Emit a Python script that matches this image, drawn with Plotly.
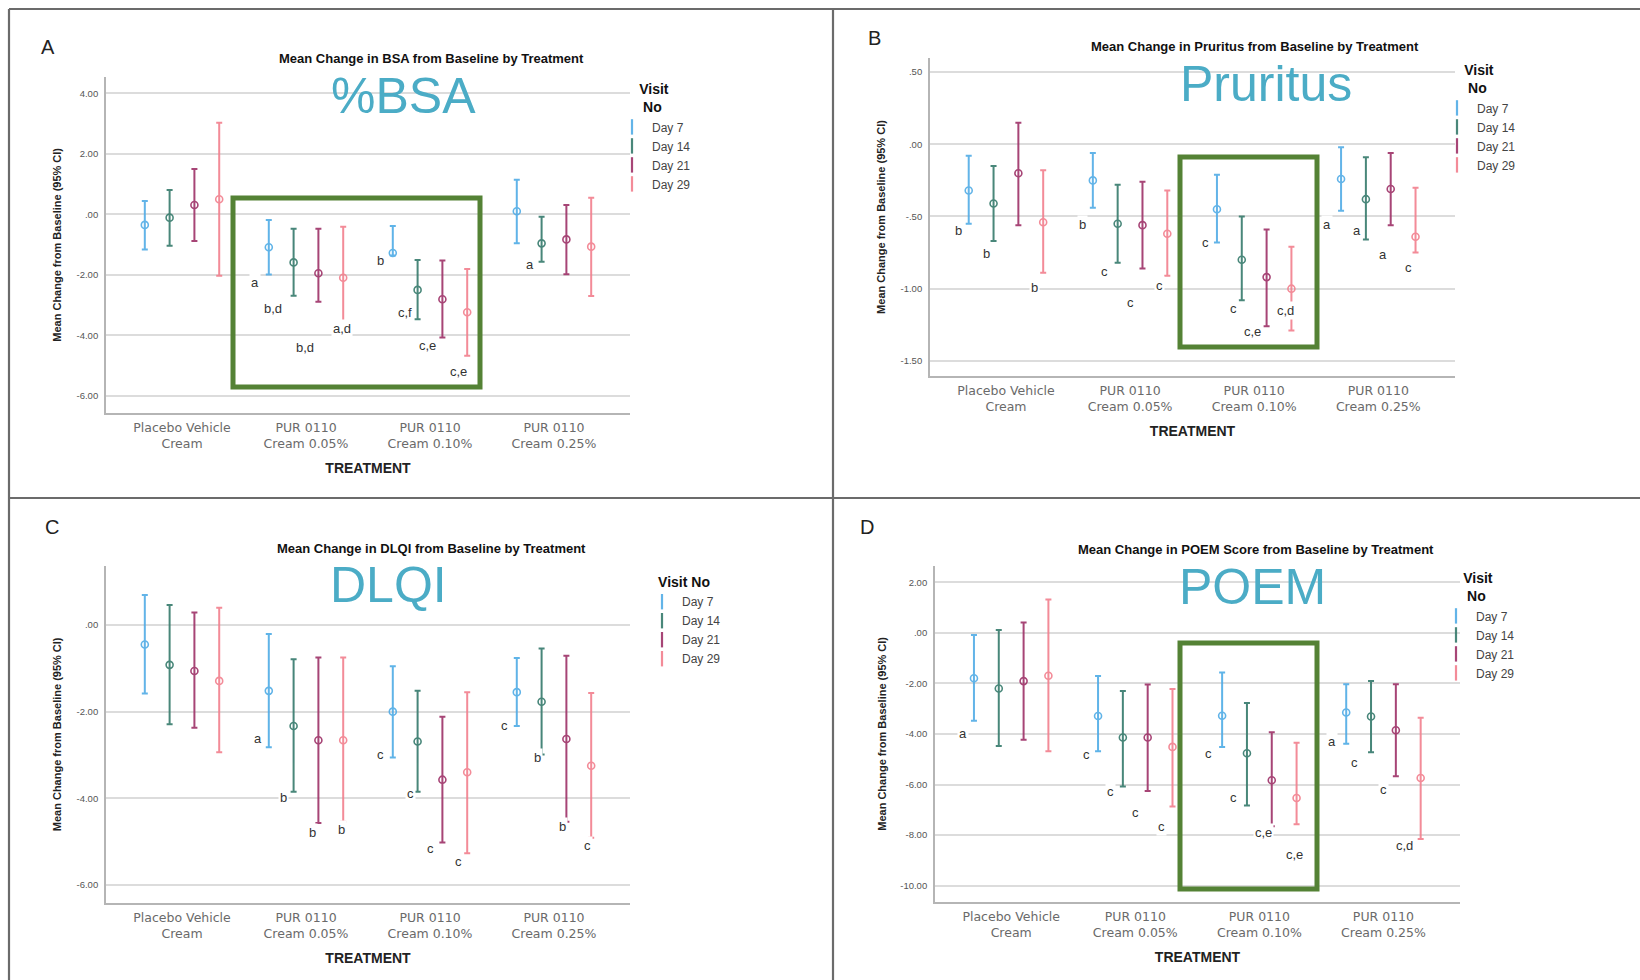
import plotly.graph_objects as go

# ---------------- data ----------------
categories = ["Placebo Vehicle Cream", "PUR 0110 Cream 0.05%", "PUR 0110 Cream 0.10%", "PUR 0110 Cream 0.25%"]
category_ticktext = ["Placebo Vehicle<br>Cream", "PUR 0110<br>Cream 0.05%", "PUR 0110<br>Cream 0.10%", "PUR 0110<br>Cream 0.25%"]
visits = ["Day 7", "Day 14", "Day 21", "Day 29"]

# rows = visits (Day 7, 14, 21, 29); columns = categories
bsa_mean = [[-0.35, -1.09, -1.28, 0.10], [-0.11, -1.59, -2.50, -0.96], [0.31, -1.95, -2.81, -0.83], [0.50, -2.10, -3.24, -1.07]]
bsa_low = [[-1.16, -1.99, -1.36, -0.96], [-1.04, -2.69, -3.47, -1.57], [-0.88, -2.89, -4.07, -1.98], [-2.03, -3.59, -4.68, -2.70]]
bsa_high = [[0.44, -0.19, -0.39, 1.14], [0.80, -0.48, -1.51, -0.08], [1.50, -0.48, -1.53, 0.31], [3.03, -0.41, -1.81, 0.55]]
bsa_yticks = [-6, -4, -2, 0, 2, 4]
bsa_yticktext = ["-6.00", "-4.00", "-2.00", ".00", "2.00", "4.00"]
bsa_letters = [("a", 0.59, -2.27), ("b,d", 0.73, -3.10), ("b,d", 0.99, -4.42), ("a,d", 1.29, -3.79),
               ("b", 1.60, -1.54), ("c,f", 1.80, -3.26), ("c,e", 1.98, -4.35), ("c,e", 2.23, -5.21),
               ("a", 2.81, -1.67)]

pru_mean = [[-0.32, -0.25, -0.45, -0.24], [-0.41, -0.55, -0.80, -0.38], [-0.20, -0.56, -0.92, -0.31], [-0.54, -0.62, -1.00, -0.64]]
pru_low = [[-0.55, -0.44, -0.68, -0.46], [-0.67, -0.82, -1.08, -0.66], [-0.56, -0.86, -1.26, -0.56], [-0.89, -0.91, -1.29, -0.75]]
pru_high = [[-0.08, -0.06, -0.21, -0.02], [-0.15, -0.28, -0.50, -0.09], [0.15, -0.26, -0.59, -0.06], [-0.18, -0.32, -0.71, -0.30]]
pru_yticks = [-1.5, -1.0, -0.5, 0.0, 0.5]
pru_yticktext = ["-1.50", "-1.00", "-.50", ".00", ".50"]
pru_letters = [("b", -0.38, -0.60), ("b", -0.16, -0.755), ("b", 0.23, -0.99), ("b", 0.62, -0.552),
               ("c", 0.79, -0.882), ("c", 1.00, -1.097), ("c", 1.235, -0.979), ("c", 1.61, -0.681),
               ("c", 1.83, -1.136), ("c,e", 1.99, -1.298), ("c,d", 2.25, -1.154), ("a", 2.59, -0.552),
               ("a", 2.83, -0.598), ("a", 3.035, -0.76), ("c", 3.24, -0.852)]

dlqi_mean = [[-0.45, -1.52, -2.00, -1.55], [-0.92, -2.33, -2.69, -1.77], [-1.06, -2.66, -3.57, -2.63], [-1.29, -2.66, -3.40, -3.25]]
dlqi_low = [[-1.58, -2.82, -3.06, -2.33], [-2.29, -3.85, -3.85, -2.99], [-2.37, -4.57, -5.02, -4.54], [-2.94, -4.54, -5.27, -4.91]]
dlqi_high = [[0.69, -0.21, -0.95, -0.76], [0.46, -0.79, -1.52, -0.54], [0.29, -0.75, -2.12, -0.71], [0.40, -0.75, -1.55, -1.57]]
dlqi_yticks = [-6, -4, -2, 0]
dlqi_yticktext = ["-6.00", "-4.00", "-2.00", ".00"]
dlqi_letters = [("a", 0.61, -2.63), ("b", 0.82, -3.99), ("b", 1.05, -4.78), ("b", 1.29, -4.71),
                ("c", 1.60, -2.98), ("c", 1.84, -3.90), ("c", 2.00, -5.15), ("c", 2.23, -5.47),
                ("c", 2.60, -2.31), ("b", 2.87, -3.05), ("b", 3.065, -4.66), ("c", 3.27, -5.10)]

poem_mean = [[-1.80, -3.29, -3.28, -3.15], [-2.20, -4.14, -4.76, -3.31], [-1.91, -4.14, -5.83, -3.85], [-1.70, -4.51, -6.53, -5.74]]
poem_low = [[-3.48, -4.68, -4.51, -4.39], [-4.48, -6.08, -6.83, -4.72], [-4.23, -6.25, -7.65, -5.67], [-4.68, -6.87, -7.57, -8.15]]
poem_high = [[-0.09, -1.71, -1.57, -2.03], [0.11, -2.30, -2.78, -1.91], [0.41, -2.04, -3.93, -2.03], [1.32, -2.22, -4.35, -3.36]]
poem_yticks = [-10, -8, -6, -4, -2, 0, 2]
poem_yticktext = ["-10.00", "-8.00", "-6.00", "-4.00", "-2.00", ".00", "2.00"]
poem_letters = [("a", -0.39, -4.00), ("c", 0.61, -4.83), ("c", 0.80, -6.26), ("c", 1.005, -7.09),
                ("c", 1.215, -7.64), ("c", 1.59, -4.77), ("c", 1.79, -6.50), ("c,e", 2.03, -7.88),
                ("c,e", 2.28, -8.75), ("a", 2.585, -4.28), ("c", 2.77, -5.11), ("c", 3.00, -6.18),
                ("c,d", 3.17, -8.39)]

# ---------------- style / layout ----------------
W, H = 1640, 980


def px(x):
    return x / W


def py(y):
    return 1 - y / H


COLORS = ["#52ACE6", "#367B6C", "#9E3168", "#F27F8D"]
FONT = "Liberation Sans, Arial, sans-serif"
TICKFONT = "DejaVu Sans, Verdana, sans-serif"
TEAL = "#4BACC6"
GREEN = "#548235"
YTITLE = "<b>Mean Change from Baseline (95% CI)</b>"
TWO_LINE_TITLE = "<b>Visit<br>&nbsp;No</b>"

panels = [
    dict(letter="A", mean=bsa_mean, low=bsa_low, high=bsa_high, yticks=bsa_yticks, ytext=bsa_yticktext,
         letters=bsa_letters, title="Mean Change in BSA from Baseline by Treatment", overlay="%BSA",
         plot=(106, 630, 77, 412.7), yrange=[-6.56, 4.54], xrange=[-0.613, 3.613],
         title_xy=(431, 59), overlay_xy=(403, 96), letter_xy=(48, 47), legend_xy=(612, 76),
         legend_title=TWO_LINE_TITLE, ystandoff=13),
    dict(letter="B", mean=pru_mean, low=pru_low, high=pru_high, yticks=pru_yticks, ytext=pru_yticktext,
         letters=pru_letters, title="Mean Change in Pruritus from Baseline by Treatment", overlay="Pruritus",
         plot=(930, 1455, 58, 376), yrange=[-1.605, 0.598], xrange=[-0.612, 3.618],
         title_xy=(1255, 46), overlay_xy=(1266, 84), letter_xy=(874, 38), legend_xy=(1437, 57),
         legend_title=TWO_LINE_TITLE, ystandoff=13),
    dict(letter="C", mean=dlqi_mean, low=dlqi_low, high=dlqi_high, yticks=dlqi_yticks, ytext=dlqi_yticktext,
         letters=dlqi_letters, title="Mean Change in DLQI from Baseline by Treatment", overlay="DLQI",
         plot=(106, 630, 566, 902.7), yrange=[-6.41, 1.362], xrange=[-0.613, 3.613],
         title_xy=(431, 548), overlay_xy=(388, 585), letter_xy=(52, 527), legend_xy=(642, 569),
         legend_title="<b>Visit No</b>", ystandoff=13),
    dict(letter="D", mean=poem_mean, low=poem_low, high=poem_high, yticks=poem_yticks, ytext=poem_yticktext,
         letters=poem_letters, title="Mean Change in POEM Score from Baseline by Treatment", overlay="POEM",
         plot=(935, 1460, 566, 901.7), yrange=[-10.63, 2.64], xrange=[-0.614, 3.617],
         title_xy=(1256, 549), overlay_xy=(1252, 587), letter_xy=(867, 527), legend_xy=(1436, 565),
         legend_title=TWO_LINE_TITLE, ystandoff=11),
]

fig = go.Figure()
annotations = []
layout_axes = {}
legends = {}

for pi, p in enumerate(panels):
    n = pi + 1
    xa = "x" if n == 1 else f"x{n}"
    ya = "y" if n == 1 else f"y{n}"
    lg = "legend" if n == 1 else f"legend{n}"
    for v, visit in enumerate(visits):
        means = p["mean"][v]
        lows = p["low"][v]
        highs = p["high"][v]
        xs = [c + (v - 1.5) * 0.2 for c in range(len(categories))]
        fig.add_trace(go.Scatter(
            x=xs, y=means, mode="markers", name=visit, xaxis=xa, yaxis=ya,
            showlegend=False, legend=lg, opacity=0.9,
            customdata=categories,
            hovertemplate="%{customdata}<br>" + visit + ": %{y:.2f}<extra></extra>",
            marker=dict(symbol="circle-open", size=7, color=COLORS[v], line=dict(width=1.6, color=COLORS[v])),
            error_y=dict(type="data", symmetric=False,
                         array=[h - m for h, m in zip(highs, means)],
                         arrayminus=[m - l for m, l in zip(means, lows)],
                         color=COLORS[v], thickness=2, width=3),
        ))
        # legend entry with an error-bar style glyph
        fig.add_trace(go.Scatter(
            x=[None], y=[None], mode="markers", name=visit, xaxis=xa, yaxis=ya,
            showlegend=True, legend=lg, opacity=0.9,
            marker=dict(symbol="line-ns-open", size=11, color=COLORS[v], line=dict(width=2.2, color=COLORS[v])),
        ))

    x0, x1, y0, y1 = p["plot"]
    xkey = "xaxis" if n == 1 else f"xaxis{n}"
    ykey = "yaxis" if n == 1 else f"yaxis{n}"
    layout_axes[xkey] = dict(
        domain=[px(x0), px(x1)], range=p["xrange"], anchor=ya,
        tickmode="array", tickvals=list(range(len(categories))), ticktext=category_ticktext,
        showgrid=False, zeroline=False, showline=True, linecolor="#b5b5b5", linewidth=1.8,
        ticks="", ticklabelstandoff=2,
        tickfont=dict(family=TICKFONT, size=12.5, color="#6a6a6a"),
        title=dict(text="<b>TREATMENT</b>", font=dict(family=FONT, size=14, color="#222"), standoff=13),
        fixedrange=True,
    )
    layout_axes[ykey] = dict(
        domain=[py(y1), py(y0)], range=p["yrange"], anchor=xa,
        tickmode="array", tickvals=p["yticks"], ticktext=p["ytext"],
        showgrid=True, gridcolor="#dcdcdc", gridwidth=1.6, zeroline=False,
        showline=True, linecolor="#b5b5b5", linewidth=1.8, ticks="", ticklabelstandoff=4,
        tickfont=dict(family=FONT, size=9.5, color="#555"),
        title=dict(text=YTITLE, font=dict(family=FONT, size=11, color="#222"), standoff=p["ystandoff"]),
        fixedrange=True,
    )
    lx, ly = p["legend_xy"]
    legends[lg] = dict(
        x=px(lx), y=py(ly), xanchor="left", yanchor="top",
        title=dict(text=p["legend_title"], side="top center", font=dict(family=FONT, size=14, color="#111")),
        font=dict(family=FONT, size=12, color="#444"), bgcolor="rgba(0,0,0,0)",
        tracegroupgap=0, itemclick=False, itemdoubleclick=False,
    )

    # significance letters (data coordinates)
    for txt, lxv, lyv in p["letters"]:
        annotations.append(dict(
            x=lxv, y=lyv, xref=xa, yref=ya, text=txt, showarrow=False,
            font=dict(family=FONT, size=13, color="#333"), bgcolor="white", borderpad=1,
            xanchor="center", yanchor="middle",
        ))
    # chart title
    tx, ty = p["title_xy"]
    annotations.append(dict(x=px(tx), y=py(ty), xref="paper", yref="paper", text=f"<b>{p['title']}</b>",
                            showarrow=False, xanchor="center", yanchor="middle",
                            font=dict(family=FONT, size=13, color="#111")))
    # overlay label
    ox, oy = p["overlay_xy"]
    annotations.append(dict(x=px(ox), y=py(oy), xref="paper", yref="paper", text=p["overlay"],
                            showarrow=False, xanchor="center", yanchor="middle",
                            font=dict(family=FONT, size=50, color=TEAL)))
    # panel letter
    pxl, pyl = p["letter_xy"]
    annotations.append(dict(x=px(pxl), y=py(pyl), xref="paper", yref="paper", text=p["letter"],
                            showarrow=False, xanchor="center", yanchor="middle",
                            font=dict(family=FONT, size=20, color="#222")))

shapes = []
# panel frame lines
for (ax0, ay0, ax1, ay1) in [(9, 9, 1640, 9), (9, 9, 9, 980), (833, 9, 833, 980), (9, 498, 1640, 498)]:
    shapes.append(dict(type="line", xref="paper", yref="paper", x0=px(ax0), y0=py(ay0), x1=px(ax1), y1=py(ay1),
                       line=dict(color="#6b6b6b", width=2.2)))
# green highlight boxes
for (bx0, by0, bx1, by1) in [(233, 198, 480, 387), (1180, 157, 1317, 347), (1180, 643, 1317, 889)]:
    shapes.append(dict(type="rect", xref="paper", yref="paper", x0=px(bx0), y0=py(by0), x1=px(bx1), y1=py(by1),
                       line=dict(color=GREEN, width=5), fillcolor="rgba(0,0,0,0)"))

fig.update_layout(
    width=W, height=H, margin=dict(l=0, r=0, t=0, b=0),
    paper_bgcolor="white", plot_bgcolor="white",
    font=dict(family=FONT),
    annotations=annotations, shapes=shapes,
    hovermode="closest",
    **layout_axes, **legends,
)

fig.write_html("out.html", config={"displayModeBar": False},
               post_script="document.body.style.margin='0';document.body.style.overflow='hidden';")
